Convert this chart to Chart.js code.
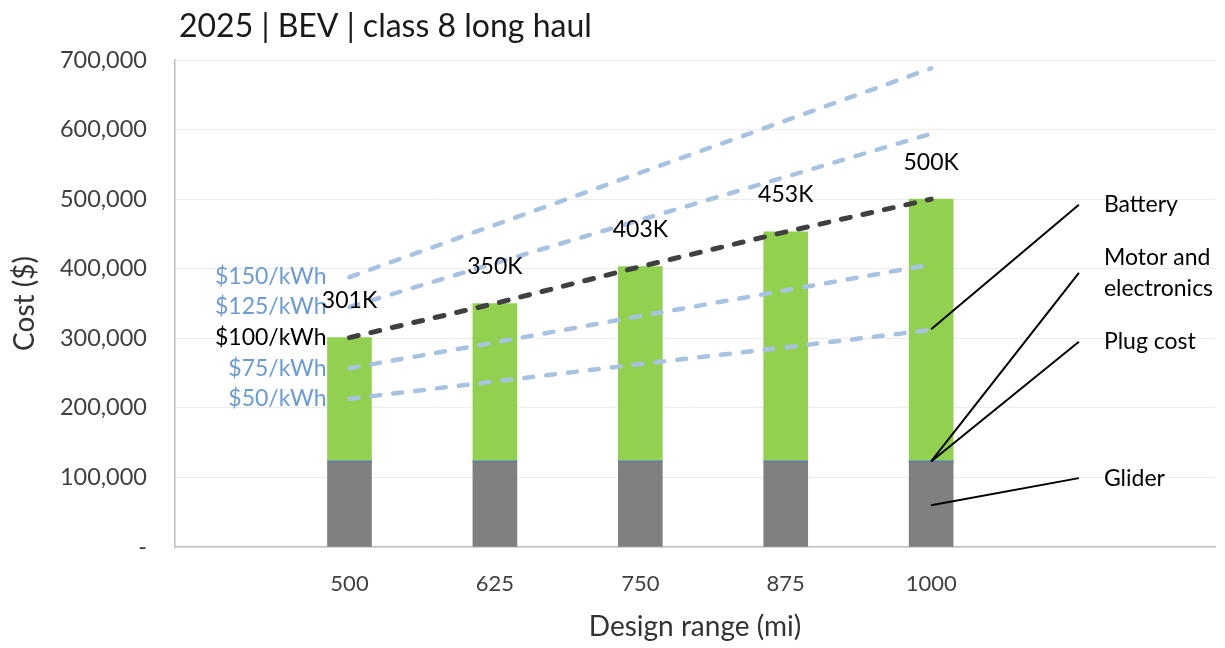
<!DOCTYPE html>
<html>
<head>
<meta charset="utf-8">
<script src="https://cdn.jsdelivr.net/npm/chart.js@4"></script>
<style>
  html, body { margin: 0; padding: 0; background: #fff; }
  #wrap { width: 1225px; height: 648px; position: relative; }
</style>
</head>
<body>
<div id="wrap"><canvas id="chart"></canvas></div>
<script>
// dados
const ranges = [500, 625, 750, 875, 1000];
const glider = [122000, 122000, 122000, 122000, 122000];
const motor = [1500, 1500, 1500, 1500, 1500];
const plug = [500, 500, 500, 500, 500];
const battery = [177000, 226000, 279000, 329000, 376000];
const totals = [301000, 350000, 403000, 453000, 500000];
const totalLabels = ['301K', '350K', '403K', '453K', '500K'];

const price150 = [388000, 463000, 538000, 613000, 688000];
const price125 = [345000, 408000, 470000, 532000, 594000];
const price100 = [301000, 350000, 403000, 453000, 500000];
const price75 = [257000, 294000, 332000, 369000, 406000];
const price50 = [213000, 238000, 263000, 287000, 312000];
const priceLabels = ['$150/kWh', '$125/kWh', '$100/kWh', '$75/kWh', '$50/kWh'];

const yTicks = [0, 100000, 200000, 300000, 400000, 500000, 600000, 700000];

// linhas de chamada (em unidades do gráfico)
const callouts = [
  { text: ['Battery'], from: [1000, 313000], to: [1127, 492000] },
  { text: ['Motor and', 'electronics'], from: [1000, 123000], to: [1127, 394000] },
  { text: ['Plug cost'], from: [1000, 123000], to: [1127, 295000] },
  { text: ['Glider'], from: [1000, 60000], to: [1127, 99000] }
];

const FONT = 'Lato, "Open Sans", sans-serif';
const lightBlue = '#a8c2e2';
const labelBlue = '#6b9bd6';

function pts(values) {
  return ranges.map((r, i) => ({ x: r, y: values[i] }));
}

function barSet(label, values, color) {
  return {
    type: 'bar', label: label, data: pts(values), backgroundColor: color,
    borderWidth: 0, barThickness: 44, yAxisID: 'y', order: 3
  };
}

function priceSet(label, values, color, width) {
  return {
    type: 'line', label: label, data: pts(values), borderColor: color,
    borderWidth: width, borderDash: [9, 13], borderCapStyle: 'round',
    pointRadius: 0, fill: false, tension: 0, yAxisID: 'yl', order: 2
  };
}

const datasets = [
  barSet('Glider', glider, '#808080'),
  barSet('Motor and electronics', motor, '#4f79b8'),
  barSet('Plug cost', plug, '#6f9fd0'),
  barSet('Battery', battery, '#92d050'),
  priceSet(priceLabels[0], price150, lightBlue, 4.5),
  priceSet(priceLabels[1], price125, lightBlue, 4.5),
  priceSet(priceLabels[2], price100, '#404040', 5),
  priceSet(priceLabels[3], price75, lightBlue, 4.5),
  priceSet(priceLabels[4], price50, lightBlue, 4.5)
];

callouts.forEach(function (c) {
  datasets.push({
    type: 'line', label: c.text.join(' '),
    data: [{ x: c.from[0], y: c.from[1] }, { x: c.to[0], y: c.to[1] }],
    borderColor: '#000', borderWidth: 2, pointRadius: 0, fill: false,
    yAxisID: 'yl', order: 1
  });
});

const textPlugin = {
  id: 'textPlugin',
  afterDraw: function (chart) {
    const ctx = chart.ctx;
    const x = chart.scales.x;
    const y = chart.scales.yl;
    ctx.save();

    // título
    ctx.font = '32px ' + FONT;
    ctx.fillStyle = '#1a1a1a';
    ctx.textAlign = 'left';
    ctx.textBaseline = 'middle';
    ctx.fillText('2025 | BEV | class 8 long haul', chart.chartArea.left + 4, 27);

    // rótulos $/kWh
    const starts = [price150[0], price125[0], price100[0], price75[0], price50[0]];
    ctx.font = '23px ' + FONT;
    ctx.textAlign = 'right';
    priceLabels.forEach(function (lbl, i) {
      ctx.fillStyle = i === 2 ? '#000' : labelBlue;
      ctx.fillText(lbl, x.getPixelForValue(ranges[0]) - 23, y.getPixelForValue(starts[i]));
    });

    // totais
    ctx.fillStyle = '#000';
    ctx.font = '23px ' + FONT;
    ctx.textAlign = 'center';
    ranges.forEach(function (r, i) {
      ctx.fillText(totalLabels[i], x.getPixelForValue(r), y.getPixelForValue(totals[i]) - 37);
    });

    // chamadas
    ctx.textAlign = 'left';
    callouts.forEach(function (c) {
      const px = x.getPixelForValue(c.to[0]) + 25;
      const py = y.getPixelForValue(c.to[1]);
      const n = c.text.length;
      c.text.forEach(function (t, k) {
        ctx.fillText(t, px, py + (k - (n - 1) / 2) * 31);
      });
    });
    ctx.restore();
  }
};

new Chart(document.getElementById('chart'), {
  type: 'bar',
  data: { datasets: datasets },
  options: {
    responsive: true,
    maintainAspectRatio: false,
    animation: false,
    layout: { padding: { top: 60, right: 10, left: 0, bottom: 0 } },
    plugins: {
      legend: { display: false },
      tooltip: { enabled: false },
      title: { display: false }
    },
    scales: {
      x: {
        type: 'linear', min: 350, max: 1244, offset: false, stacked: true,
        afterBuildTicks: function (scale) { scale.ticks = ranges.map(function (v) { return { value: v }; }); },
        afterFit: function (scale) { scale.height = 101; },
        grid: { display: false, drawTicks: false },
        border: { color: '#bfbfbf', width: 1.5 },
        ticks: {
          font: { family: FONT, size: 22 }, color: '#404040', padding: 24, maxRotation: 0, autoSkip: false,
          callback: function (v) { return String(v); }
        },
        title: { display: true, text: 'Design range (mi)', font: { family: FONT, size: 28 }, color: '#333', padding: { top: 0, bottom: 4 } }
      },
      y: {
        stacked: true, min: 0, max: 700000,
        afterBuildTicks: function (scale) { scale.ticks = yTicks.map(function (v) { return { value: v }; }); },
        afterFit: function (scale) { scale.width = 175; },
        grid: { color: '#ececec', lineWidth: 1, drawTicks: false },
        border: { color: '#bfbfbf', width: 1.5 },
        ticks: {
          font: { family: FONT, size: 23.5 }, color: '#404040', padding: 28,
          callback: function (v) { return v === 0 ? '-' : v.toLocaleString('en-US'); }
        },
        title: { display: true, text: 'Cost ($)', font: { family: FONT, size: 28 }, color: '#333', padding: { top: 8, bottom: 0 } }
      },
      yl: { display: false, min: 0, max: 700000 }
    }
  },
  plugins: [textPlugin]
});
</script>
</body>
</html>
